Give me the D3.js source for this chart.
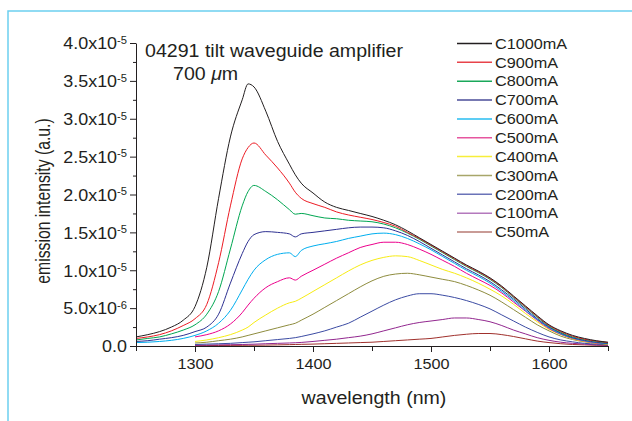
<!DOCTYPE html>
<html>
<head>
<meta charset="utf-8">
<script src="https://cdn.jsdelivr.net/npm/d3@7"></script>
<style>
body { margin: 0; background: #fff; }
text { font-family: "Liberation Sans", Arial, Helvetica, sans-serif; fill: #231f20; }
</style>
</head>
<body>
<script>
// wavelength grid (nm)
const wavelengths = [1250, 1260, 1270, 1280, 1290, 1300, 1310, 1320, 1330, 1340, 1345, 1350, 1360, 1370, 1380, 1385,
    1390, 1400, 1410, 1420, 1430, 1440, 1450, 1460, 1470, 1480, 1490, 1500, 1510, 1520, 1530, 1540, 1550,
    1560, 1570, 1580, 1590, 1600, 1610, 1620, 1630, 1640, 1650]

// emission intensity, in units of 1e-5 (a.u.)
// the C50..C500 spectra only start at 1300 nm
const c1000 = [0.12, 0.15, 0.19, 0.25, 0.34, 0.52, 1.04, 1.95, 2.76, 3.25, 3.46, 3.42, 3.1, 2.7, 2.4, 2.26,
    2.15, 2.02, 1.9, 1.83, 1.79, 1.75, 1.71, 1.66, 1.6, 1.52, 1.43, 1.34, 1.25, 1.16, 1.07, 0.99, 0.9,
    0.79, 0.66, 0.53, 0.4, 0.28, 0.2, 0.14, 0.1, 0.07, 0.05]
const c900 = [0.1, 0.12, 0.15, 0.2, 0.27, 0.36, 0.55, 1.1, 1.85, 2.47, 2.62, 2.68, 2.52, 2.35, 2.15, 2.03,
    1.95, 1.88, 1.83, 1.77, 1.73, 1.7, 1.67, 1.63, 1.58, 1.5, 1.42, 1.33, 1.24, 1.15, 1.06, 0.98, 0.89,
    0.78, 0.65, 0.52, 0.39, 0.27, 0.19, 0.13, 0.09, 0.065, 0.045]
const c800 = [0.08, 0.1, 0.12, 0.16, 0.21, 0.28, 0.42, 0.72, 1.28, 1.85, 2.04, 2.12, 2.04, 1.93, 1.8, 1.74,
    1.75, 1.72, 1.69, 1.68, 1.66, 1.65, 1.64, 1.61, 1.56, 1.49, 1.41, 1.32, 1.23, 1.14, 1.05, 0.97, 0.88,
    0.77, 0.64, 0.51, 0.38, 0.26, 0.18, 0.12, 0.085, 0.06, 0.04]
const c700 = [0.06, 0.07, 0.09, 0.11, 0.14, 0.19, 0.25, 0.42, 0.83, 1.22, 1.38, 1.47, 1.51, 1.5, 1.48, 1.44,
    1.48, 1.5, 1.52, 1.54, 1.56, 1.57, 1.57, 1.56, 1.52, 1.46, 1.38, 1.29, 1.2, 1.11, 1.02, 0.94, 0.85,
    0.74, 0.62, 0.49, 0.36, 0.25, 0.17, 0.11, 0.075, 0.05, 0.035]
const c600 = [0.045, 0.05, 0.06, 0.075, 0.1, 0.14, 0.2, 0.3, 0.47, 0.74, 0.88, 1.0, 1.14, 1.21, 1.23, 1.18,
    1.26, 1.32, 1.35, 1.38, 1.42, 1.45, 1.48, 1.49, 1.47, 1.42, 1.35, 1.27, 1.18, 1.09, 1.0, 0.92, 0.83,
    0.72, 0.6, 0.47, 0.35, 0.24, 0.16, 0.105, 0.07, 0.045, 0.03]
const c500 = [0.12, 0.15, 0.2, 0.29, 0.44, 0.54, 0.63, 0.77, 0.85, 0.9, 0.87,
    0.92, 1.0, 1.08, 1.16, 1.23, 1.3, 1.34, 1.37, 1.37, 1.34, 1.28, 1.21, 1.13, 1.05, 0.96, 0.88, 0.8,
    0.7, 0.58, 0.46, 0.34, 0.23, 0.155, 0.1, 0.065, 0.04, 0.03]
const c400 = [0.06, 0.08, 0.11, 0.15, 0.21, 0.25, 0.31, 0.41, 0.5, 0.57, 0.59,
    0.63, 0.72, 0.81, 0.9, 0.99, 1.07, 1.13, 1.17, 1.19, 1.18, 1.13, 1.07, 1.01, 0.96, 0.9, 0.83, 0.75,
    0.66, 0.55, 0.43, 0.32, 0.22, 0.15, 0.095, 0.06, 0.04, 0.025]
const c300 = [0.04, 0.05, 0.07, 0.09, 0.12, 0.14, 0.16, 0.2, 0.24, 0.28, 0.3,
    0.34, 0.42, 0.51, 0.6, 0.69, 0.78, 0.86, 0.92, 0.95, 0.96, 0.94, 0.91, 0.88, 0.85, 0.8, 0.74, 0.67,
    0.58, 0.48, 0.38, 0.28, 0.2, 0.13, 0.085, 0.055, 0.035, 0.02]
const c200 = [0.02, 0.025, 0.03, 0.035, 0.045, 0.05, 0.055, 0.07, 0.085, 0.1, 0.11,
    0.125, 0.16, 0.2, 0.25, 0.3, 0.38, 0.46, 0.54, 0.61, 0.66, 0.69, 0.69, 0.67, 0.64, 0.6, 0.55, 0.49,
    0.41, 0.33, 0.25, 0.18, 0.12, 0.08, 0.055, 0.035, 0.025, 0.015]
const c100 = [0.01, 0.012, 0.015, 0.017, 0.02, 0.022, 0.024, 0.03, 0.035, 0.04, 0.043,
    0.047, 0.06, 0.075, 0.09, 0.11, 0.13, 0.16, 0.2, 0.24, 0.28, 0.31, 0.33, 0.35, 0.37, 0.37, 0.35, 0.32,
    0.27, 0.21, 0.16, 0.11, 0.075, 0.05, 0.035, 0.025, 0.015, 0.01]
const c50 = [0.005, 0.006, 0.007, 0.008, 0.009, 0.01, 0.01, 0.012, 0.015, 0.018, 0.02,
    0.022, 0.025, 0.03, 0.035, 0.04, 0.045, 0.05, 0.06, 0.07, 0.08, 0.09, 0.1, 0.12, 0.14, 0.155, 0.165, 0.165,
    0.15, 0.125, 0.095, 0.065, 0.045, 0.03, 0.02, 0.015, 0.01, 0.008]

const names = ['C1000mA', 'C900mA', 'C800mA', 'C700mA', 'C600mA', 'C500mA', 'C400mA', 'C300mA', 'C200mA', 'C100mA', 'C50mA']
const colors = ['#231f20', '#ed1c24', '#00a651', '#2e3192', '#00aeef', '#ec008c', '#f7ec13', '#8e8c3e', '#3b4ba3', '#92278f', '#a0302c']
const legendColors = ['#231f20', '#e8434a', '#1aa85a', '#4a4c98', '#27bdf0', '#e6569f', '#f7ee3a', '#a8a66a', '#6a73b8', '#b479bd', '#b77a73']

const xTicks = [1300, 1400, 1500, 1600]
const xMinorTicks = [1250, 1350, 1450, 1550, 1650]
const yTicks = [0, 0.5, 1, 1.5, 2, 2.5, 3, 3.5, 4]
const yTickLabels = [['0.0', ''], ['5.0x10', '-6'], ['1.0x10', '-5'], ['1.5x10', '-5'], ['2.0x10', '-5'],
    ['2.5x10', '-5'], ['3.0x10', '-5'], ['3.5x10', '-5'], ['4.0x10', '-5']]
const yMinorTicks = [0.25, 0.75, 1.25, 1.75, 2.25, 2.75, 3.25, 3.75]

const allSeries = [c1000, c900, c800, c700, c600, c500, c400, c300, c200, c100, c50]

const W = 632, H = 421
const margin = {top: 43, right: 24, bottom: 75, left: 136}
const width = W - margin.left - margin.right
const height = H - margin.top - margin.bottom
const stretch = 1.12

const svg = d3.select('body').append('svg')
    .attr('width', W)
    .attr('height', H)

// cyan page frame
svg.append('path')
    .attr('d', 'M8,421 V11 H632')
    .style('fill', 'none')
    .style('stroke', '#6ccff0')
    .style('stroke-width', 1.5)

const g = svg.append('g')
    .attr('transform', `translate(${margin.left}, ${margin.top})`)

const x = d3.scaleLinear().domain([1250, 1650]).range([0, width])
const y = d3.scaleLinear().domain([0, 4]).range([height, 0])

// pad the late-starting spectra with nulls so they line up with the grid
const pad = v => Array(wavelengths.length - v.length).fill(null).concat(v)

const line = d3.line()
    .defined(d => d.v != null)
    .x(d => x(d.w))
    .y(d => y(d.v))
    .curve(d3.curveMonotoneX)

allSeries.slice().reverse().forEach((s, j) => {
    const i = allSeries.length - 1 - j
    const pts = pad(s).map((v, k) => ({w: wavelengths[k], v: v}))
    g.append('path')
        .datum(pts)
        .attr('d', line)
        .style('fill', 'none')
        .style('stroke', colors[i])
        .style('stroke-width', 1)
})

// axes
const xAxis = g.append('g')
    .attr('transform', `translate(0, ${height})`)
    .call(d3.axisBottom(x).tickValues(xTicks).tickSize(6).tickSizeOuter(0).tickPadding(7).tickFormat(d3.format('d')))
g.append('g')
    .attr('transform', `translate(0, ${height})`)
    .call(d3.axisBottom(x).tickValues(xMinorTicks).tickSize(5).tickSizeOuter(0).tickFormat(''))
    .call(a => a.select('.domain').remove())

const yAxis = g.append('g')
    .call(d3.axisLeft(y).tickValues(yTicks).tickSize(6).tickSizeOuter(0).tickPadding(3).tickFormat(''))
g.append('g')
    .call(d3.axisLeft(y).tickValues(yMinorTicks).tickSize(3).tickSizeOuter(0).tickFormat(''))
    .call(a => a.select('.domain').remove())

g.selectAll('.domain, .tick line').style('stroke', '#231f20')

xAxis.selectAll('text')
    .style('font-size', '14.5px')
    .attr('transform', `scale(${stretch},1)`)

yAxis.selectAll('.tick').each(function(d, i) {
    const t = d3.select(this).select('text')
        .attr('x', -9 / stretch)
        .attr('dy', '0.36em')
        .style('font-size', '16px')
        .attr('transform', `scale(${stretch},1)`)
    t.append('tspan').text(yTickLabels[i][0])
    if (yTickLabels[i][1]) {
        t.append('tspan').text(yTickLabels[i][1]).attr('dy', '-0.55em').style('font-size', '10px')
    }
})

// axis titles
svg.append('text')
    .attr('transform', `translate(${margin.left + width / 2 + 2}, 404) scale(${stretch},1)`)
    .attr('text-anchor', 'middle')
    .style('font-size', '17.5px')
    .text('wavelength (nm)')

svg.append('text')
    .attr('transform', 'translate(50, 201) rotate(-90) scale(0.9,1.2)')
    .attr('text-anchor', 'middle')
    .style('font-size', '17.5px')
    .text('emission intensity (a.u.)')

// annotation
svg.append('text')
    .attr('transform', `translate(145, 57) scale(${stretch},1)`)
    .style('font-size', '17.5px')
    .text('04291 tilt waveguide amplifier')

const note = svg.append('text')
    .attr('transform', `translate(173, 80) scale(${stretch},1)`)
    .style('font-size', '17.5px')
note.append('tspan').text('700 ')
note.append('tspan').text('\u03bc').style('font-style', 'italic')
note.append('tspan').text('m')

// legend
const legend = svg.append('g')
names.forEach((n, i) => {
    const ly = 43.5 + i * 18.85
    legend.append('line')
        .attr('x1', 457).attr('x2', 492)
        .attr('y1', ly).attr('y2', ly)
        .style('stroke', legendColors[i])
        .style('stroke-width', 1.5)
    legend.append('text')
        .attr('transform', `translate(495, ${ly}) scale(${stretch},1)`)
        .attr('dy', '0.36em')
        .style('font-size', '14.5px')
        .text(n)
})
</script>
</body>
</html>
